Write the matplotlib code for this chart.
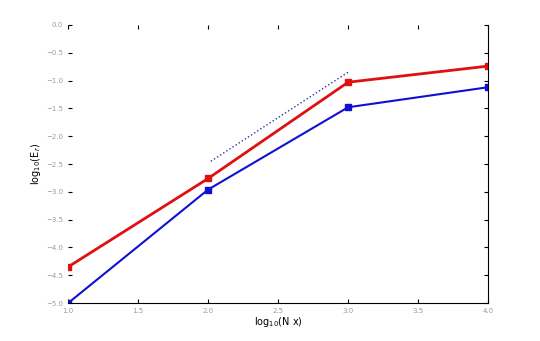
import matplotlib
matplotlib.use("Agg")
import matplotlib.pyplot as plt

x = [1, 2, 3, 4]
err_red = [-4.35, -2.76, -1.03, -0.74]
err_blue = [-5.0, -2.96, -1.48, -1.12]
ref_x = [2.02, 3.0]
ref_y = [-2.45, -0.85]

fig = plt.figure(figsize=(5.4, 3.41), dpi=100)
ax = fig.add_axes([0.126, 0.111, 0.778, 0.816])

ax.plot(x, err_red, color='#e01010', linewidth=2, marker='s', markersize=4)
ax.plot(x, err_blue, color='#1010d0', linewidth=1.5, marker='s', markersize=4)
ax.plot(ref_x, ref_y, color='#3030a0', linestyle=':', linewidth=1)

ax.set_xlim(1, 4)
ax.set_ylim(-5, 0)
ax.set_xticks([1, 1.5, 2, 2.5, 3, 3.5, 4])
ax.set_yticks([-5, -4.5, -4, -3.5, -3, -2.5, -2, -1.5, -1, -0.5, 0])
ax.spines['top'].set_visible(False)
ax.spines['left'].set_visible(False)
ax.tick_params(direction='in', labelsize=5, length=3, top=True, right=True, colors='black')
for lbl in ax.get_xticklabels() + ax.get_yticklabels():
    lbl.set_color('#999999')
ax.set_xlabel('log$_{10}$(N x)', fontsize=7, labelpad=1)
ax.set_ylabel('log$_{10}$(E$_r$)', fontsize=7, labelpad=2)

fig.savefig('out.png', dpi=100)
